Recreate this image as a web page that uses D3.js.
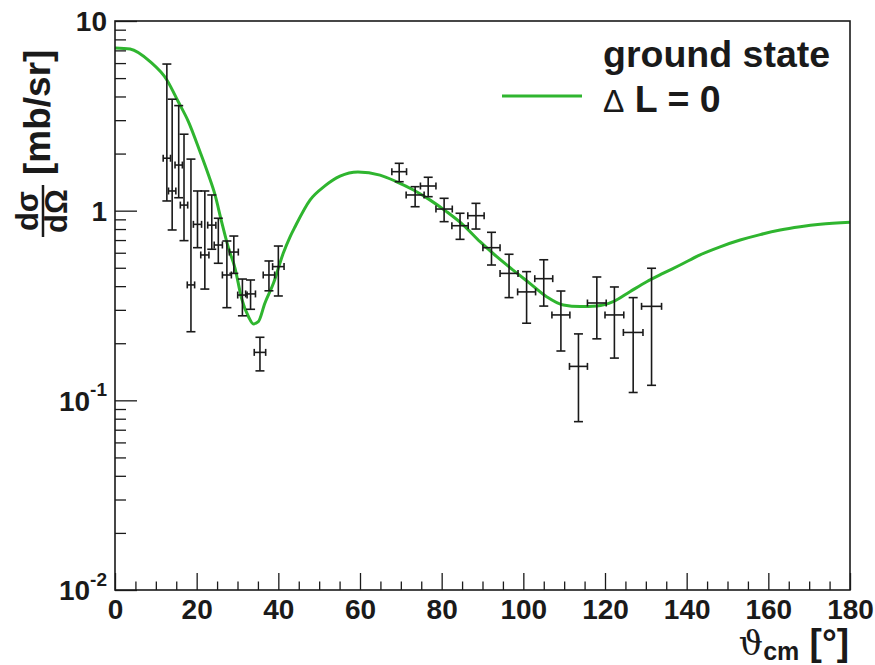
<!DOCTYPE html>
<html>
<head>
<meta charset="utf-8">
<script src="https://cdn.jsdelivr.net/npm/d3@7"></script>
<style>
  body { margin: 0; background: #fff; }
  svg { display: block; font-family: "Liberation Sans", Arial, sans-serif; }
</style>
</head>
<body>
<svg id="chart" width="875" height="665"></svg>
<script>
// measured points (angle in deg, cross section in mb/sr)
const dataAngle = [12.7, 14.0, 15.6, 16.9, 18.6, 20.2, 22.0, 23.7, 25.3, 27.4, 29.1, 31.2, 33.2, 35.5, 37.7, 40.0,
  69.6, 73.5, 76.7, 80.6, 84.5, 88.4, 92.2, 96.5, 100.8, 105.0, 109.2, 113.5, 118.0, 122.3, 126.9, 131.4]
const dataAngleErr = [0.9, 0.9, 0.9, 0.9, 0.9, 1.0, 1.0, 1.0, 1.0, 1.1, 1.1, 1.15, 1.2, 1.4, 1.4, 1.4,
  1.8, 2.2, 1.9, 2.0, 2.0, 2.0, 2.1, 2.2, 2.2, 2.2, 2.2, 2.2, 2.3, 2.3, 2.4, 2.45]
const dataXs = [1.89, 1.27, 1.74, 1.07, 0.406, 0.847, 0.584, 0.839, 0.659, 0.458, 0.605, 0.359, 0.364, 0.179, 0.458, 0.507,
  1.605, 1.21, 1.349, 1.02, 0.833, 0.941, 0.638, 0.467, 0.373, 0.438, 0.282, 0.151, 0.326, 0.282, 0.228, 0.313]
const dataLow = [1.125, 0.791, 1.17, 0.695, 0.230, 0.638, 0.386, 0.626, 0.528, 0.308, 0.467, 0.279, 0.302, 0.143, 0.378, 0.355,
  1.421, 1.049, 1.185, 0.875, 0.706, 0.800, 0.517, 0.348, 0.255, 0.314, 0.182, 0.0772, 0.211, 0.167, 0.110, 0.120]
const dataHigh = [5.93, 3.87, 3.58, 2.53, 1.87, 1.27, 1.27, 1.21, 0.912, 0.692, 0.735, 0.436, 0.431, 0.215, 0.543, 0.651,
  1.777, 1.338, 1.50, 1.162, 0.969, 1.093, 0.769, 0.589, 0.477, 0.551, 0.377, 0.224, 0.447, 0.396, 0.348, 0.497]

// calculation, ground state L = 0
const curveAngle = [0, 3.7, 8.6, 12.7, 15.5, 18.0, 20.8, 22.9, 24.5, 26.1, 27.8, 29.4, 31.0, 32.7, 33.9, 35.1, 36.7, 38.8,
  41.2, 42.9, 44.1, 47.8, 51.4, 55.1, 59.5, 64.9, 69.0, 73.1, 77.1, 81.2, 85.3, 89.4, 93.5, 97.5, 101.6, 105.7, 109.8,
  113.9, 118.0, 122.0, 126.1, 130.2, 134.3, 138.4, 143.3, 148.2, 153.1, 158.0, 162.9, 167.8, 172.7, 180]
const curveXs = [7.21, 7.11, 6.10, 4.89, 3.75, 2.94, 2.05, 1.54, 1.21, 0.875, 0.634, 0.497, 0.345, 0.276, 0.253, 0.260, 0.325, 0.414,
  0.596, 0.730, 0.823, 1.14, 1.35, 1.52, 1.60, 1.54, 1.42, 1.285, 1.14, 0.988, 0.840, 0.686, 0.572, 0.486, 0.414, 0.352, 0.318,
  0.312, 0.314, 0.331, 0.374, 0.422, 0.468, 0.517, 0.585, 0.645, 0.700, 0.748, 0.790, 0.822, 0.847, 0.868]

const xMajor = [0, 20, 40, 60, 80, 100, 120, 140, 160, 180]
const yMajor = [0.01, 0.1, 1, 10]
const yLabels = [["10", "-2"], ["10", "-1"], ["1", ""], ["10", ""]]

const margin = {top: 21, right: 25, bottom: 75, left: 115}
const width = 875, height = 665
const ink = "#1a1a1a"
const green = "#2fb52f"

const svg = d3.select("#chart")

const x = d3.scaleLinear().domain([0, 180]).range([margin.left, width - margin.right])
const y = d3.scaleLog().domain([0.01, 10]).range([height - margin.bottom, margin.top])

// minor ticks
let xMinor = d3.range(0, 181, 5).filter(d => d % 20 !== 0)
let yMinor = []
for (let i = 0; i < yMajor.length - 1; i++) {
  for (let k = 2; k <= 9; k++) yMinor.push(yMajor[i] * k)
}

function draw_axes() {
  let xMinorAxis = d3.axisBottom(x).tickValues(xMinor).tickSizeInner(-8.5).tickSizeOuter(0).tickFormat("")
  let xAxis = d3.axisBottom(x).tickValues(xMajor).tickSizeInner(-17).tickSizeOuter(0).tickPadding(9)
    .tickFormat(d3.format("d"))
  let yMinorAxis = d3.axisLeft(y).tickValues(yMinor).tickSizeInner(-11).tickSizeOuter(0).tickFormat("")
  let yAxis = d3.axisLeft(y).tickValues(yMajor).tickSizeInner(-22).tickSizeOuter(0).tickPadding(10)
    .tickFormat("")

  svg.append("g").attr("transform", `translate(0, ${y.range()[0]})`).call(xMinorAxis)
  let gx = svg.append("g").attr("transform", `translate(0, ${y.range()[0]})`).call(xAxis)
  svg.append("g").attr("transform", `translate(${margin.left}, 0)`).call(yMinorAxis)
  let gy = svg.append("g").attr("transform", `translate(${margin.left}, 0)`).call(yAxis)

  gx.selectAll("text").attr("font-size", 28).attr("font-weight", "bold").attr("fill", ink)

  gy.selectAll(".tick").each(function (d, i) {
    let t = d3.select(this).select("text")
      .attr("font-size", 28).attr("font-weight", "bold").attr("fill", ink)
      .attr("x", -8).attr("dy", "0.35em")
    t.append("tspan").text(yLabels[i][0])
    if (yLabels[i][1]) {
      t.append("tspan").attr("font-size", 19).attr("dy", "-0.75em").text(yLabels[i][1])
    }
  })

  svg.selectAll(".tick line").attr("stroke", ink).attr("stroke-width", 1.3)
  svg.selectAll(".domain").remove()

  // frame
  svg.append("rect")
    .attr("x", x.range()[0]).attr("y", y.range()[1])
    .attr("width", x.range()[1] - x.range()[0]).attr("height", y.range()[0] - y.range()[1])
    .attr("fill", "none").attr("stroke", ink).attr("stroke-width", 1.6)
}

function draw_curve() {
  let line = d3.line()
    .x((d, i) => x(curveAngle[i]))
    .y(d => y(d))
    .curve(d3.curveMonotoneX)
  svg.append("path")
    .attr("d", line(curveXs))
    .attr("fill", "none").attr("stroke", green).attr("stroke-width", 3)
}

function draw_points() {
  let g = svg.append("g").attr("stroke", ink).attr("stroke-width", 1.6)
  let pts = g.selectAll("g").data(dataAngle).enter().append("g")
  let capW = 4.5, capH = 3.5
  pts.append("line")
    .attr("x1", d => x(d)).attr("x2", d => x(d))
    .attr("y1", (d, i) => y(dataLow[i])).attr("y2", (d, i) => y(dataHigh[i]))
  pts.append("line")
    .attr("x1", d => x(d) - capW).attr("x2", d => x(d) + capW)
    .attr("y1", (d, i) => y(dataLow[i])).attr("y2", (d, i) => y(dataLow[i]))
  pts.append("line")
    .attr("x1", d => x(d) - capW).attr("x2", d => x(d) + capW)
    .attr("y1", (d, i) => y(dataHigh[i])).attr("y2", (d, i) => y(dataHigh[i]))
  pts.append("line")
    .attr("x1", (d, i) => x(d - dataAngleErr[i])).attr("x2", (d, i) => x(d + dataAngleErr[i]))
    .attr("y1", (d, i) => y(dataXs[i])).attr("y2", (d, i) => y(dataXs[i]))
  pts.append("line")
    .attr("x1", (d, i) => x(d - dataAngleErr[i])).attr("x2", (d, i) => x(d - dataAngleErr[i]))
    .attr("y1", (d, i) => y(dataXs[i]) - capH).attr("y2", (d, i) => y(dataXs[i]) + capH)
  pts.append("line")
    .attr("x1", (d, i) => x(d + dataAngleErr[i])).attr("x2", (d, i) => x(d + dataAngleErr[i]))
    .attr("y1", (d, i) => y(dataXs[i]) - capH).attr("y2", (d, i) => y(dataXs[i]) + capH)
}

function draw_titles() {
  // x title
  let xt = svg.append("text")
    .attr("x", 849).attr("y", 655).attr("text-anchor", "end").attr("fill", ink)
  xt.append("tspan").attr("font-size", 34).attr("font-family", "DejaVu Serif").text("ϑ")
  xt.append("tspan").attr("font-size", 25).attr("font-weight", "bold").attr("dy", 5).text("cm")
  xt.append("tspan").attr("font-size", 37).attr("font-weight", "bold").attr("dy", -5).text(" [°]")

  // y title, fraction dσ/dΩ then [mb/sr]
  let yt = svg.append("g").attr("transform", "translate(43, 237) rotate(-90)").attr("fill", ink)
  yt.append("line").attr("x1", 0).attr("x2", 52).attr("y1", 0).attr("y2", 0)
    .attr("stroke", ink).attr("stroke-width", 2.5)
  yt.append("text").attr("x", 26).attr("y", -5).attr("text-anchor", "middle")
    .attr("font-size", 31).attr("font-weight", "bold").text("dσ")
  yt.append("text").attr("x", 26).attr("y", 24).attr("text-anchor", "middle")
    .attr("font-size", 31).attr("font-weight", "bold").text("dΩ")
  yt.append("text").attr("x", 62).attr("y", 7)
    .attr("font-size", 37).attr("font-weight", "bold").text("[mb/sr]")
}

function draw_legend() {
  svg.append("line").attr("x1", 502).attr("x2", 582).attr("y1", 96).attr("y2", 96)
    .attr("stroke", green).attr("stroke-width", 3)
  svg.append("text").attr("x", 603).attr("y", 67).attr("fill", ink)
    .attr("font-size", 37.5).attr("font-weight", "bold").text("ground state")
  let t = svg.append("text").attr("x", 603).attr("y", 112).attr("fill", ink)
  t.append("tspan").attr("font-size", 32).text("Δ")
  t.append("tspan").attr("font-size", 37.5).attr("font-weight", "bold").text(" L = 0")
}

draw_curve()
draw_points()
draw_axes()
draw_titles()
draw_legend()
</script>
</body>
</html>
